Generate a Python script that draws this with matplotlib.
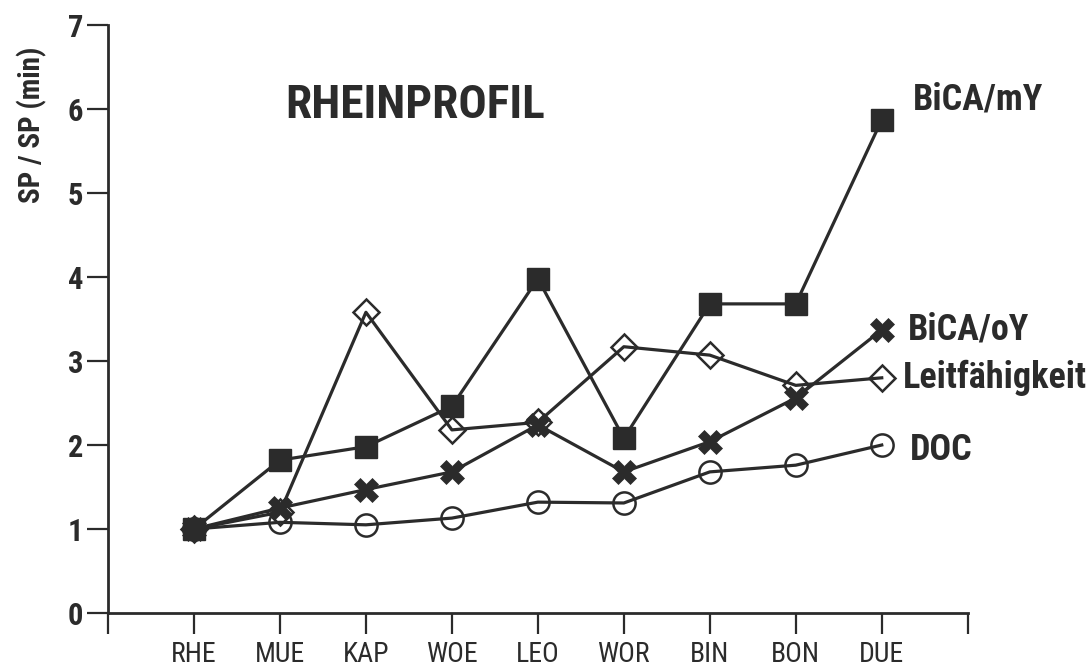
import matplotlib
matplotlib.use("Agg")
import matplotlib.pyplot as plt
from matplotlib import font_manager as fm

# Sampling stations along the Rhine
stations = ["RHE", "MUE", "KAP", "WOE", "LEO", "WOR", "BIN", "BON", "DUE"]

# Relative values SP / SP(min) per parameter
bica_my = [1.0, 1.82, 1.98, 2.46, 3.98, 2.08, 3.68, 3.68, 5.87]
bica_oy = [1.0, 1.25, 1.47, 1.68, 2.24, 1.68, 2.04, 2.56, 3.37]
leitf = [1.0, 1.2, 3.58, 2.18, 2.27, 3.17, 3.07, 2.71, 2.8]
doc = [1.0, 1.08, 1.05, 1.13, 1.32, 1.31, 1.68, 1.76, 2.0]

series_names = ["BiCA/mY", "BiCA/oY", "Leitfähigkeit", "DOC"]
y_ticks = [0, 1, 2, 3, 4, 5, 6, 7]

INK = "#2b2b2b"


def pick_narrow(weight):
    """Return (family, stretch, is_narrow) of the narrowest sans face found."""
    candidates = [("Liberation Sans Narrow", "normal"),
                  ("Roboto Condensed", "normal"),
                  ("Roboto", "condensed"),
                  ("DejaVu Sans", "condensed"),
                  ("Open Sans", "condensed"),
                  ("Noto Sans", "condensed")]
    for fam, stretch in candidates:
        try:
            path = fm.findfont(fm.FontProperties(family=fam, weight=weight,
                                                 stretch=stretch),
                               fallback_to_default=False)
        except ValueError:
            continue
        low = path.lower()
        key = fam.lower().replace(" ", "")
        if key not in low.replace(" ", "").replace("_", "").replace("-", ""):
            continue
        if stretch == "normal" or "condensed" in low or "narrow" in low:
            return fam, stretch, True
    return "Roboto", "normal", False


REG_FAM, REG_STR, REG_NARROW = pick_narrow("normal")
BOLD_FAM, BOLD_STR, BOLD_NARROW = pick_narrow("bold")
k_reg = 1.0 if REG_NARROW else 0.85
k_bold = 1.0 if BOLD_NARROW else 0.85

fig = plt.figure(figsize=(10.91, 6.68), dpi=100)
ax = fig.add_axes([0.099, 0.0823, 0.788, 0.8803])

x = list(range(1, len(stations) + 1))

ax.plot(x, bica_my, color=INK, lw=2.3, marker="s", ms=16.5,
        mfc=INK, mec=INK, zorder=4)
ax.plot(x, bica_oy, color=INK, lw=2.3, marker="X", ms=17,
        mfc=INK, mec=INK, mew=0.5, zorder=3)
ax.plot(x, leitf, color=INK, lw=2.3, marker="D", ms=13,
        mfc="none", mec=INK, mew=1.8, zorder=3)
ax.plot(x, doc, color=INK, lw=2.3, marker="o", ms=16,
        mfc="none", mec=INK, mew=1.8, zorder=3)

ax.set_xlim(0, 10)
ax.set_ylim(0, 7)

ax.set_xticks(range(0, 11))
ax.set_xticklabels([""] + stations + [""], family=REG_FAM,
                   fontstretch=REG_STR, fontsize=20 * k_reg)
ax.set_yticks(y_ticks)
ax.set_yticklabels([str(t) for t in y_ticks], family=BOLD_FAM,
                   fontstretch=BOLD_STR, fontsize=22 * k_bold,
                   fontweight="bold")

ax.tick_params(axis="x", direction="out", length=15, width=1.6,
               pad=5, colors=INK)
ax.tick_params(axis="y", direction="out", length=15, width=1.6,
               pad=3, colors=INK)

for side in ("top", "right"):
    ax.spines[side].set_visible(False)
for side in ("left", "bottom"):
    ax.spines[side].set_linewidth(2)
    ax.spines[side].set_color(INK)

ax.set_ylabel("SP / SP (min)", family=BOLD_FAM, fontstretch=BOLD_STR,
              fontsize=21 * k_bold, fontweight="bold", color=INK)
ax.yaxis.set_label_coords(-0.071, 0.83)

ax.text(3.57, 0.864, "RHEINPROFIL", transform=ax.get_xaxis_transform(),
        ha="center", va="center", family=BOLD_FAM, fontstretch=BOLD_STR,
        fontsize=34 * k_bold, fontweight="bold", color=INK)

# End-of-line series labels
last = len(stations)
offsets = [(31, 10), (26, -10), (21, -10), (28, -15)]
for name, vals, (dx, dy) in zip(series_names,
                                 [bica_my, bica_oy, leitf, doc], offsets):
    ax.annotate(name, xy=(last, vals[-1]), xytext=(dx, dy),
                textcoords="offset pixels", ha="left", va="baseline",
                family=BOLD_FAM, fontstretch=BOLD_STR,
                fontsize=26 * k_bold, fontweight="bold", color=INK,
                annotation_clip=False)

fig.savefig("out.png", dpi=100, facecolor="white")
